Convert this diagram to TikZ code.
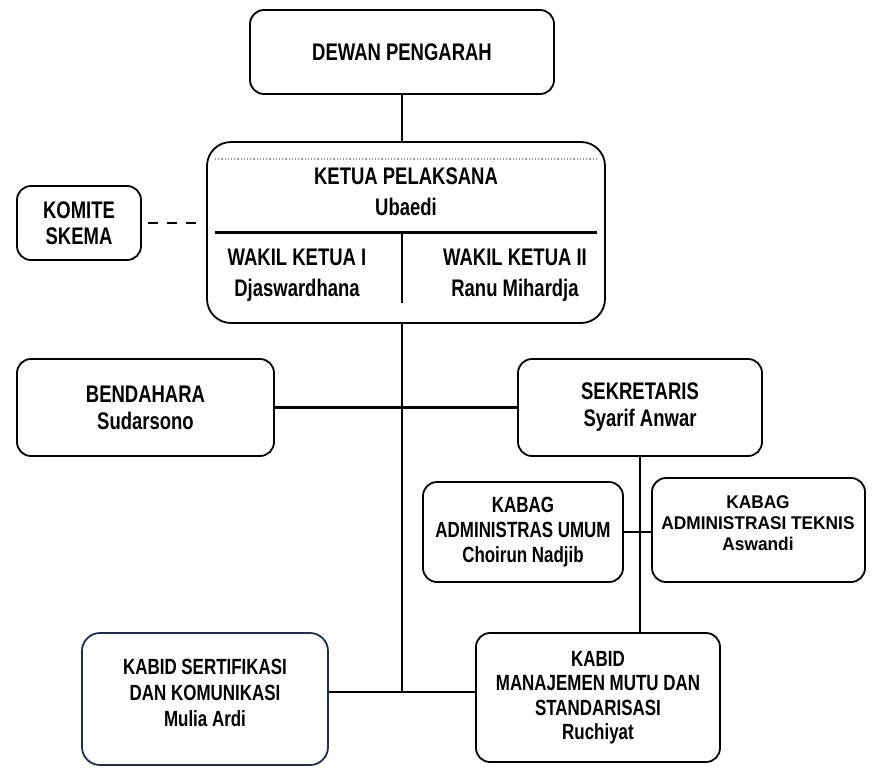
\documentclass[tikz,border=0pt]{standalone}
\usepackage{fontspec}
\setmainfont{Liberation Sans}[FakeStretch=0.77]
\newfontfamily\teknisfont{Liberation Sans}[FakeStretch=0.94]
\definecolor{navy}{RGB}{31,45,78}

\begin{document}
\begin{tikzpicture}[x=0.5pt, y=-0.5pt, line width=1.2pt,
		box/.style={draw, line width=0.9pt, rounded corners=7pt, align=center, inner sep=0pt},
		txt/.style={align=center, inner sep=0pt},
		fbig/.style={font=\fontsize{12}{15.5}\selectfont\bfseries},
		fmid/.style={font=\fontsize{12}{13.5}\selectfont\bfseries},
		fsmall/.style={font=\fontsize{11}{12.5}\selectfont\bfseries}]
%		\draw [help lines] (0,0) grid (879,776);
		\useasboundingbox (0,0) rectangle (879,776);
		\node [box, fbig, minimum width=152pt, minimum height=42pt] (dewan) at (402,52) {DEWAN PENGARAH};
		\node [box, rounded corners=12pt, minimum width=199pt, minimum height=90.5pt] (ketua) at (406,232.5) {};
		\node [txt, fbig] (ketuatxt) at (406,192) {KETUA PELAKSANA\\Ubaedi};
		\node [txt, fbig] (wakil1) at (297,275) {WAKIL KETUA I\\Djaswardhana};
		\node [txt, fbig] (wakil2) at (515,275) {WAKIL KETUA II\\Ranu Mihardja};
		\node [box, fmid, font=\fontsize{12}{13}\selectfont\bfseries, minimum width=62pt, minimum height=37pt] (komite) at (79,223) {KOMITE\\SKEMA};
		\node [box, fmid, minimum width=128.5pt, minimum height=48.5pt] (bendahara) at (145.5,407.5) {BENDAHARA\\Sudarsono};
		\node [box, fmid, minimum width=122pt, minimum height=48.5pt] (sekretaris) at (640,407.5) {SEKRETARIS\\Syarif Anwar};
		\node [box, fsmall, minimum width=100pt, minimum height=50pt] (umum) at (523,532) {KABAG\\ADMINISTRAS UMUM\\Choirun Nadjib};
		\node [box, minimum width=106.5pt, minimum height=52pt] (teknis) at (758.5,530) {};
		\node [txt, font=\teknisfont\fontsize{9.2}{10.5}\selectfont\bfseries] (teknistxt) at (758,523.5) {KABAG\\ADMINISTRASI TEKNIS\\Aswandi};
		\node [box, fsmall, font=\fontsize{11}{12.25}\selectfont\bfseries, minimum width=122pt, minimum height=64.5pt] (mutu) at (598,697.5) {KABID\\MANAJEMEN MUTU DAN\\STANDARISASI\\Ruchiyat};
		\node [box, draw=navy, rounded corners=9pt, minimum width=123pt, minimum height=66pt] (sertifikasi) at (205,699) {};
		\node [txt, fsmall, font=\fontsize{11}{13}\selectfont\bfseries] (sertifikasitxt) at (205,692.5) {KABID SERTIFIKASI\\DAN KOMUNIKASI\\Mulia Ardi};
		\coordinate (trunk) at (402,692);
		\draw [line width=0.6pt, densely dotted, gray!80] (215,159) -- (598,159);
		\draw (215,232.5) -- (597,232.5);
		\draw (402,232.5) -- (402,303);
		\draw (dewan.south) -- (dewan.south |- ketua.north);
		\draw (dewan.south |- ketua.south) -- (trunk);
		\draw (bendahara.east) -- (sekretaris.west);
		\draw (sekretaris.south) -- (sekretaris.south |- mutu.north);
		\draw (umum.east) -- (umum.east -| teknis.west);
		\draw (sertifikasi.east |- trunk) -- (mutu.west |- trunk);
		\draw [dash pattern=on 5pt off 4.5pt, shorten <=3pt, shorten >=5pt] (komite.east) -- (komite.east -| ketua.west);
\end{tikzpicture}
\end{document}
